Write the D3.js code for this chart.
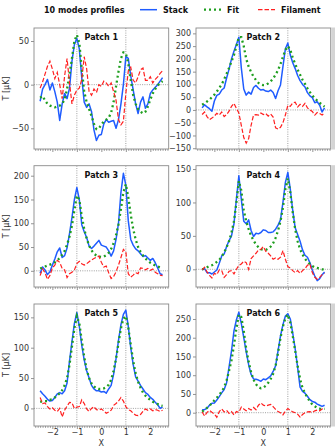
<!DOCTYPE html>
<html><head><meta charset="utf-8">
<script src="https://cdn.jsdelivr.net/npm/d3@7"></script>
<style>body{margin:0;background:#fff}svg{display:block;font-family:"DejaVu Sans",sans-serif}</style>
</head><body>
<script>
const xs = [-2.5,-2.4,-2.3,-2.2,-2.1,-2.0,-1.9,-1.8,-1.7,-1.6,-1.5,-1.4,-1.3,-1.2,-1.1,-1.0,-0.9,-0.8,-0.7,-0.6,-0.5,-0.4,-0.3,-0.2,-0.1,0.0,0.1,0.2,0.3,0.4,0.5,0.6,0.7,0.8,0.9,1.0,1.1,1.2,1.3,1.4,1.5,1.6,1.7,1.8,1.9,2.0,2.1,2.2,2.3,2.4,2.5];
const patchNames = ["Patch 1","Patch 2","Patch 3","Patch 4","Patch 5","Patch 6"];
const legendTitle = "10 modes profiles";
const seriesNames = ["Stack","Fit","Filament"];
const xTicks = [-2,-1,0,1,2];
const markLines = [-1,1];

const stack1 = [-19,-5,0,6,-6,2,-8,-20,-41,-22,-10,-16,-4,27,46,53,41,8,-20,-26,-22,-31,-52,-64,-58,-57,-45,-40,-43,-42,-41,-50,-40,-22,0,32,30,10,-6,-22,-33,-20,-14,-27,-22,-10,-6,-3,0,4,8];
const fit1 = [-15,-13,-18,-22,-24,-25,-26,-25,-24,-22,-17,-5,12,30,50,57,48,18,-8,-20,-28,-36,-45,-51,-50,-46,-42,-40,-38,-32,-20,-2,15,30,37,36,24,5,-12,-22,-28,-31,-33,-31,-25,-17,-10,-5,-1,2,4];
const fil1 = [-4,3,12,21,27,18,7,14,0,-16,10,30,2,-22,-12,-6,-4,6,32,18,-8,-12,-5,-9,0,-2,4,2,-2,2,-8,-18,-40,-46,-42,-10,16,20,5,2,9,17,19,5,5,9,2,6,9,13,16];

const stack2 = [8,20,12,5,-5,35,57,62,78,86,125,160,200,230,256,285,165,82,58,70,62,88,96,85,78,80,74,72,78,68,45,75,98,170,240,262,215,185,162,135,115,100,90,68,55,48,28,32,18,-8,8];
const fit2 = [20,26,33,40,50,60,72,86,100,120,142,165,190,215,250,285,285,250,200,170,148,130,117,106,100,97,98,104,112,123,138,156,180,208,235,250,235,205,180,158,138,118,102,85,70,57,46,36,28,20,13];
const fil2 = [-18,-8,-26,-38,-32,-24,-13,-20,-8,-26,-18,-5,14,26,6,-12,-60,-108,-130,-112,-60,-20,-18,-20,-12,-18,-14,-24,-16,-28,-70,-75,-68,-50,-20,18,14,28,30,12,22,14,26,8,0,-6,-20,-10,-14,-20,-12];

const stack3 = [-5,8,2,-8,-2,12,25,40,48,28,32,48,78,112,150,175,150,97,82,70,52,47,52,58,64,54,52,50,42,31,42,66,100,165,205,180,105,66,54,46,42,36,30,32,27,22,26,17,6,-6,-8];
const fit3 = [5,7,9,11,13,15,18,22,27,34,42,55,72,95,128,158,150,115,88,68,53,43,36,32,30,29,30,33,38,46,58,75,98,130,165,182,155,118,88,66,50,40,32,26,21,17,14,11,9,7,5];
const fil3 = [-10,4,-4,-18,-10,6,12,22,18,5,2,-14,-6,-3,2,15,20,15,12,15,19,23,26,29,31,18,8,10,-4,-16,-12,-2,12,28,45,40,-6,-13,-9,-4,-6,6,5,2,5,1,4,-3,-6,-9,-10];

const stack4 = [-1,1,-5,-5,-7,-4,-1,9,20,23,34,43,50,68,105,140,105,72,68,74,58,49,54,53,55,59,58,55,55,56,60,66,74,100,130,145,120,88,62,52,42,29,21,18,10,-1,-10,-17,-14,-8,-4];
const fit4 = [0,1,3,5,6,8,11,14,19,25,33,42,55,72,100,132,118,88,72,60,50,43,37,33,30,29,29,31,34,39,47,58,72,92,120,136,115,85,60,42,30,22,16,11,8,5,3,2,1,0,-1];
const fil4 = [-1,3,-4,-9,-13,-6,-8,-1,-2,-12,-8,-3,-2,-7,0,6,8,12,10,0,16,20,24,29,30,34,27,24,20,15,17,15,18,28,15,4,2,-2,-5,-2,-6,-2,1,6,8,-5,-12,-15,-12,-8,-6];

const stack5 = [29,24,20,15,12,13,18,24,26,24,29,42,78,110,140,158,135,104,80,62,50,38,32,29,29,27,28,25,32,38,56,82,112,138,155,162,135,100,72,52,45,38,32,26,23,18,15,10,6,0,2];
const fit5 = [11,11,12,12,14,15,18,21,25,30,38,50,72,102,132,152,140,112,85,64,50,41,36,33,32,32,33,35,39,47,62,82,108,132,148,152,133,105,78,58,44,34,26,21,17,14,11,9,7,5,4];
const fil5 = [18,8,9,3,-1,1,-3,-5,0,-14,-3,4,10,9,0,2,3,14,8,-1,-5,0,3,-2,-3,-1,-4,-8,-6,-3,5,8,12,18,12,3,-2,-4,-8,-11,-12,-10,-5,-1,-3,-1,-4,-2,-3,-5,-3];

const stack6 = [8,8,12,20,25,26,34,43,53,62,80,122,165,218,248,268,238,200,162,128,102,90,89,87,84,90,88,93,98,110,125,165,205,235,258,264,250,212,170,120,68,57,52,44,35,30,28,23,20,17,20];
const fit6 = [3,8,13,19,25,33,40,48,56,68,86,112,140,180,225,262,255,218,170,135,108,88,76,68,65,67,72,80,90,104,125,160,200,230,252,262,240,205,165,125,90,66,52,40,30,22,17,13,11,10,10];
const fil6 = [2,-9,1,6,1,-3,-12,3,10,2,6,-2,3,-6,3,1,15,10,5,11,7,14,8,20,26,20,18,20,22,16,9,3,0,-6,4,11,6,2,0,-4,-12,-5,0,2,3,1,5,7,5,10,12];

const yTicks1 = [-50,0,50];
const yTicks2 = [-150,-100,-50,0,50,100,150,200,250,300];
const yTicks3 = [0,50,100,150,200];
const yTicks4 = [0,50,100,150];
const yTicks5 = [0,50,100,150];
const yTicks6 = [0,50,100,150,200,250];

const yDomain1 = [-73.7,64.9];
const yDomain2 = [-153,321];
const yDomain3 = [-34,221];
const yDomain4 = [-26.5,155];
const yDomain5 = [-29,172];
const yDomain6 = [-35.5,290];

const yLabel = "T [μK]";
const xLabel = "X";

// layout
const W = 335, H = 448;
const colX = [[34,168.7],[196,330.7]];
const rowY = [[28,149],[165.7,287],[304,426]];
const C_STACK = "#1f5cff", C_FIT = "#1e9e1e", C_FIL = "#ff1f1f";

const svg = d3.select("body").append("svg").attr("width",W).attr("height",H);

const panels = [
  {name:patchNames[0],stack:stack1,fit:fit1,fil:fil1,yt:yTicks1,yd:yDomain1},
  {name:patchNames[1],stack:stack2,fit:fit2,fil:fil2,yt:yTicks2,yd:yDomain2},
  {name:patchNames[2],stack:stack3,fit:fit3,fil:fil3,yt:yTicks3,yd:yDomain3},
  {name:patchNames[3],stack:stack4,fit:fit4,fil:fil4,yt:yTicks4,yd:yDomain4},
  {name:patchNames[4],stack:stack5,fit:fit5,fil:fil5,yt:yTicks5,yd:yDomain5},
  {name:patchNames[5],stack:stack6,fit:fit6,fil:fil6,yt:yTicks6,yd:yDomain6}
];

// minor ticks on x
const minorTicks = d3.range(-27,28).map(d=>d/10).filter(d=>Math.abs(d*10 % 10) > 1e-6);

panels.forEach((p,i)=>{
  const c = i%2, r = Math.floor(i/2);
  const [x0,x1] = colX[c], [y0,y1] = rowY[r];
  const x = d3.scaleLinear().domain([-2.75,2.75]).range([x0,x1]);
  const y = d3.scaleLinear().domain(p.yd).range([y1,y0]);
  const g = svg.append("g");
  const cid = "clip"+i;
  svg.append("clipPath").attr("id",cid).append("rect").attr("x",x0).attr("y",y0).attr("width",x1-x0).attr("height",y1-y0);
  const pg = g.append("g").attr("clip-path",`url(#${cid})`);

  // reference lines
  markLines.forEach(v=>{
    pg.append("line").attr("x1",x(v)).attr("x2",x(v)).attr("y1",y0).attr("y2",y1)
      .attr("stroke","#777").attr("stroke-width",0.7).attr("stroke-dasharray","1,1.3");
  });
  pg.append("line").attr("x1",x0).attr("x2",x1).attr("y1",y(0)).attr("y2",y(0))
    .attr("stroke","#777").attr("stroke-width",0.7).attr("stroke-dasharray","1,1.3");

  const line = arr => d3.line().x((d,k)=>x(xs[k])).y(d=>y(d))(arr);
  pg.append("path").attr("d",line(p.stack)).attr("fill","none").attr("stroke",C_STACK).attr("stroke-width",1.5).attr("stroke-linejoin","round");
  pg.append("path").attr("d",line(p.fit)).attr("fill","none").attr("stroke",C_FIT).attr("stroke-width",2.3).attr("stroke-dasharray","2,3");
  pg.append("path").attr("d",line(p.fil)).attr("fill","none").attr("stroke",C_FIL).attr("stroke-width",1.2).attr("stroke-dasharray","4.5,2");

  // x axis
  const xa = d3.axisBottom(x).tickValues(xTicks).tickSize(3).tickPadding(0.5)
    .tickFormat(r===2 ? d3.format("d") : ()=>"");
  const gx = g.append("g").attr("transform",`translate(0,${y1})`).call(xa);
  const xm = d3.axisBottom(x).tickValues(minorTicks).tickSize(1.8).tickFormat(()=>"");
  const gxm = g.append("g").attr("transform",`translate(0,${y1})`).call(xm);
  // y axis
  const ya = d3.axisLeft(y).tickValues(p.yt).tickSize(3).tickPadding(2).tickFormat(d3.format("d"));
  const gy = g.append("g").attr("transform",`translate(${x0},0)`).call(ya);
  [gx,gxm,gy].forEach(a=>{
    a.selectAll(".domain").remove();
    a.selectAll(".tick line").attr("stroke","#666").attr("stroke-width",0.7);
    a.selectAll("text").attr("font-size",8).attr("fill","#333").attr("font-family","DejaVu Sans");
  });
  // frame
  g.append("rect").attr("x",x0).attr("y",y0).attr("width",x1-x0).attr("height",y1-y0)
    .attr("fill","none").attr("stroke","#8a8a8a").attr("stroke-width",0.9);
  if(c===1){
    g.append("rect").attr("x",x1+0.5).attr("y",y0-0.5).attr("width",W-x1-0.5).attr("height",y1-y0+1).attr("fill","#d4d4d4");
  }
  // title
  g.append("text").attr("x",(x0+x1)/2).attr("y",y0+12).attr("text-anchor","middle")
    .attr("font-size",8).attr("font-weight","bold").attr("fill","#111").text(p.name);
  if(c===0){
    g.append("text").attr("transform",`translate(${x0-25},${(y0+y1)/2}) rotate(-90)`)
      .attr("text-anchor","middle").attr("font-size",8).attr("fill","#333").text(yLabel);
  }
  if(r===2){
    g.append("text").attr("x",(x0+x1)/2).attr("y",H-2.5).attr("text-anchor","middle")
      .attr("font-size",8).attr("fill","#333").text(xLabel);
  }
});

// legend
const lg = svg.append("g");
lg.append("text").attr("x",44).attr("y",12.7).attr("font-size",8).attr("font-weight","bold").attr("fill","#111").text(legendTitle);
const legendItems = [
  {name:seriesNames[0],color:C_STACK,w:1.5,dash:null,lx:140},
  {name:seriesNames[1],color:C_FIT,w:2.3,dash:"2,3",lx:204},
  {name:seriesNames[2],color:C_FIL,w:1.2,dash:"4.5,2",lx:258}
];
legendItems.forEach(it=>{
  const l = lg.append("line").attr("x1",it.lx).attr("x2",it.lx+17).attr("y1",9.7).attr("y2",9.7)
    .attr("stroke",it.color).attr("stroke-width",it.w);
  if(it.dash) l.attr("stroke-dasharray",it.dash);
  lg.append("text").attr("x",it.lx+23).attr("y",12.7).attr("font-size",8).attr("font-weight","bold").attr("fill","#111").text(it.name);
});
</script>
</body></html>
